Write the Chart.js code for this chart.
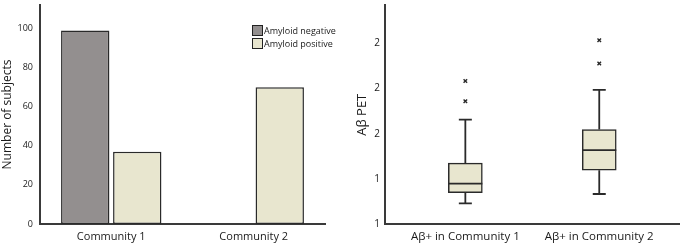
<!DOCTYPE html>
<html>
<head>
<meta charset="utf-8">
<script src="https://cdn.jsdelivr.net/npm/chart.js@4.4.1/dist/chart.umd.min.js"></script>
<style>
html, body { margin: 0; padding: 0; background: #fff; }
#wrap { position: relative; width: 685px; height: 244px; overflow: hidden; font-family: "Open Sans", sans-serif; }
.panel { position: absolute; top: 0; height: 244px; }
#p1 { left: 0; width: 340px; }
#p2 { left: 340px; width: 345px; }
#legend1 { position: absolute; left: 252px; top: 24px; font-size: 9px; color: #1a1a1a; }
#legend1 .item { display: flex; align-items: center; height: 13px; white-space: nowrap; }
#legend1 .sw { width: 9px; height: 9px; border: 1px solid #222; margin-right: 1px; box-sizing: content-box; }
</style>
</head>
<body>
<div id="wrap">
  <div class="panel" id="p1"><canvas id="chart1" width="340" height="244"></canvas></div>
  <div class="panel" id="p2"><canvas id="chart2" width="345" height="244"></canvas></div>
  <div id="legend1"></div>
</div>
<script>
// left panel: subjects per community
const communities = ['Community 1', 'Community 2'];
const seriesNames = ['Amyloid negative', 'Amyloid positive'];
const amyloidNegative = [99, 0];
const amyloidPositive = [37, 70];
const subjectTicks = [0, 20, 40, 60, 80, 100];

// right panel: Aβ PET of amyloid positive subjects
const boxCategories = ['Aβ+ in Community 1', 'Aβ+ in Community 2'];
const boxPositions = [1, 2];
const whiskerLow = [1.114, 1.166];
const q1 = [1.173, 1.298];
const median = [1.223, 1.409];
const q3 = [1.337, 1.523];
const whiskerHigh = [1.578, 1.742];
const outliersCommunity1 = [1.680, 1.792];
const outliersCommunity2 = [1.888, 2.017];
const petTicks = [1, 1.25, 1.5, 1.75, 2];
const petTickLabels = ['1', '1', '2', '2', '2'];

const colNegative = '#938f8f';
const colPositive = '#e8e6cf';
const colLine = '#2a2a2a';
const colAxis = '#3a3a3a';
const colText = '#1a1a1a';
const font = '"Open Sans", sans-serif';

Chart.defaults.font.family = font;
Chart.defaults.color = colText;

// keep the plot top close to the canvas edge (tick padding would push it down)
function tightVertical(top) {
    return function (scale) {
        scale.paddingTop = top;
        scale.paddingBottom = 0;
    };
}

var chart1 = new Chart(document.getElementById('chart1'), {
    type: 'bar',
    data: {
        labels: communities,
        datasets: [{
            label: seriesNames[0],
            data: amyloidNegative,
            backgroundColor: colNegative,
            borderColor: colLine,
            borderWidth: 1.5,
            borderSkipped: false,
            categoryPercentage: 0.73,
            barPercentage: 0.93
        }, {
            label: seriesNames[1],
            data: amyloidPositive,
            backgroundColor: colPositive,
            borderColor: colLine,
            borderWidth: 1.5,
            borderSkipped: false,
            categoryPercentage: 0.73,
            barPercentage: 0.93
        }]
    },
    options: {
        responsive: false,
        animation: false,
        layout: { padding: { top: 0, right: 15, bottom: 0, left: 0 } },
        plugins: { legend: { display: false }, tooltip: { enabled: false } },
        scales: {
            x: {
                grid: { display: false, drawTicks: false },
                border: { color: colAxis, width: 2 },
                ticks: { font: { size: 11 }, padding: 6, color: colText },
                afterFit: function (scale) { scale.height = 20; }
            },
            y: {
                min: 0,
                max: 112,
                afterBuildTicks: function (scale) {
                    scale.ticks = subjectTicks.map(v => ({ value: v }));
                },
                grid: { display: false, drawTicks: false },
                border: { color: colAxis, width: 2 },
                ticks: { font: { size: 9 }, padding: 7, color: colText },
                title: {
                    display: true,
                    text: 'Number of subjects',
                    font: { size: 12 },
                    color: colText,
                    padding: { top: 0, bottom: 0 }
                },
                afterFit: function (scale) {
                    scale.width = 40;
                    tightVertical(5)(scale);
                }
            }
        }
    }
});

// legend drawn inside the plot, built from the datasets
var legendHtml = '';
chart1.data.datasets.forEach(function (ds) {
    legendHtml += '<div class="item"><span class="sw" style="background:' + ds.backgroundColor + '"></span>' + ds.label + '</div>';
});
document.getElementById('legend1').innerHTML = legendHtml;

// whiskers, caps and medians for the box plot
const whiskerPlugin = {
    id: 'whiskers',
    afterDatasetsDraw: function (chart) {
        const ctx = chart.ctx;
        const xs = chart.scales.x, ys = chart.scales.y;
        const boxes = chart.getDatasetMeta(0).data;
        const capHalf = 6.5;
        ctx.save();
        ctx.strokeStyle = colLine;
        ctx.lineWidth = 1.8;
        boxPositions.forEach(function (pos, i) {
            const cx = xs.getPixelForValue(pos);
            const half = boxes[i].width / 2;
            const yLow = ys.getPixelForValue(whiskerLow[i]);
            const yQ1 = ys.getPixelForValue(q1[i]);
            const yMed = ys.getPixelForValue(median[i]);
            const yQ3 = ys.getPixelForValue(q3[i]);
            const yHigh = ys.getPixelForValue(whiskerHigh[i]);
            ctx.beginPath();
            ctx.moveTo(cx, yQ3); ctx.lineTo(cx, yHigh);
            ctx.moveTo(cx - capHalf, yHigh); ctx.lineTo(cx + capHalf, yHigh);
            ctx.moveTo(cx, yQ1); ctx.lineTo(cx, yLow);
            ctx.moveTo(cx - capHalf, yLow); ctx.lineTo(cx + capHalf, yLow);
            ctx.moveTo(cx - half, yMed); ctx.lineTo(cx + half, yMed);
            ctx.stroke();
        });
        ctx.restore();
    }
};

const outlierPoints = outliersCommunity1.map(v => ({ x: boxPositions[0], y: v }))
    .concat(outliersCommunity2.map(v => ({ x: boxPositions[1], y: v })));

new Chart(document.getElementById('chart2'), {
    type: 'bar',
    data: {
        datasets: [{
            type: 'bar',
            label: 'IQR',
            data: boxPositions.map((p, i) => ({ x: p, y: [q1[i], q3[i]] })),
            backgroundColor: colPositive,
            borderColor: colLine,
            borderWidth: 1.5,
            borderSkipped: false,
            barThickness: 34
        }, {
            type: 'scatter',
            label: 'Outliers',
            data: outlierPoints,
            pointStyle: 'crossRot',
            radius: 2.5,
            borderWidth: 1.4,
            borderColor: colLine,
            backgroundColor: colLine
        }]
    },
    plugins: [whiskerPlugin],
    options: {
        responsive: false,
        animation: false,
        layout: { padding: { top: 0, right: 3, bottom: 0, left: 0 } },
        plugins: { legend: { display: false }, tooltip: { enabled: false } },
        scales: {
            x: {
                type: 'linear',
                offset: false,
                min: 0.4,
                max: 2.6,
                afterBuildTicks: function (scale) {
                    scale.ticks = boxPositions.map(v => ({ value: v }));
                },
                grid: { display: false, drawTicks: false, offset: false },
                border: { color: colAxis, width: 2 },
                ticks: {
                    font: { size: 11.5 },
                    padding: 6,
                    color: colText,
                    callback: function (value, index) { return boxCategories[index]; }
                },
                afterFit: function (scale) {
                    scale.height = 20;
                    scale.paddingLeft = 0;
                    scale.paddingRight = 0;
                }
            },
            y: {
                min: 1,
                max: 2.21,
                afterBuildTicks: function (scale) {
                    scale.ticks = petTicks.map(v => ({ value: v }));
                },
                grid: { display: false, drawTicks: false },
                border: { color: colAxis, width: 2 },
                ticks: {
                    font: { size: 10 },
                    padding: 5,
                    color: colText,
                    callback: function (value, index) { return petTickLabels[index]; }
                },
                title: {
                    display: true,
                    text: 'Aβ PET',
                    font: { size: 13 },
                    color: colText,
                    padding: { top: 14, bottom: 0 }
                },
                afterFit: function (scale) {
                    scale.width = 45;
                    tightVertical(5)(scale);
                }
            }
        }
    }
});
</script>
</body>
</html>
